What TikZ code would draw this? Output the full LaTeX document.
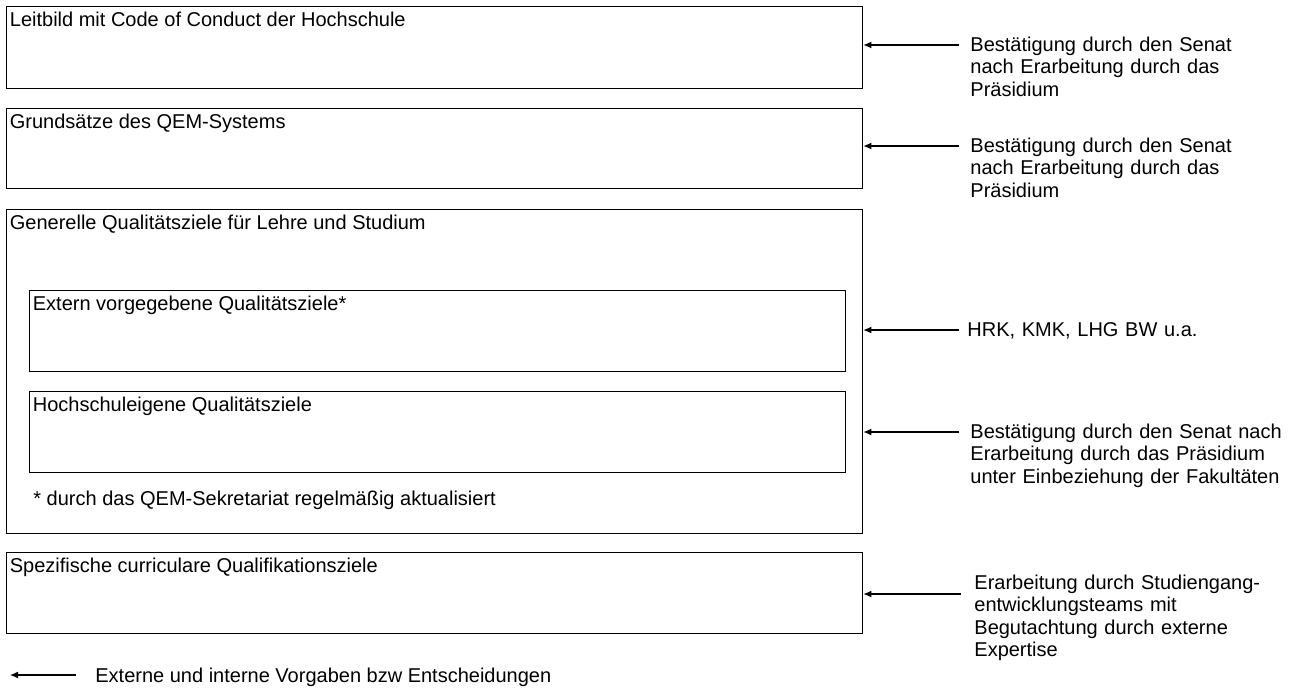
\documentclass[tikz,border=0pt]{standalone}
\usepackage{fontspec}
\setmainfont{Liberation Sans}
\usetikzlibrary{arrows,calc,arrows.meta}

\tikzset{
  box/.style={draw, line width=.65pt, anchor=north west, inner sep=0pt, minimum width=428pt},
  inbox/.style={box, minimum width=408pt},
  lbl/.style={anchor=base west, inner sep=0pt, xshift=1.75pt, yshift=-10.25pt},
  note/.style={anchor=base west, inner sep=0pt, align=left, text width=170pt},
}

\begin{document}
\begin{tikzpicture}[x=.5pt,y=-.5pt,font=\fontsize{10}{11.25}\selectfont]
    \useasboundingbox (0,0) rectangle (1289,691);
    % Ebenen
    \node[box, minimum height=41pt] (leitbild) at (6,6) {};
    \node[box, minimum height=40pt] (grundsaetze) at (6,108) {};
    \node[box, minimum height=162pt] (generell) at (6,209) {};
    \node[inbox, minimum height=40.5pt] (extern) at (29,290) {};
    \node[inbox, minimum height=40.5pt] (eigene) at (29,391) {};
    \node[box, minimum height=40.5pt] (curricular) at (6,552) {};
    \node[lbl] (leitbildtxt) at (leitbild.north west) {Leitbild mit Code of Conduct der Hochschule};
    \node[lbl] (grundsaetzetxt) at (grundsaetze.north west) {Grundsätze des QEM-Systems};
    \node[lbl] (generelltxt) at (generell.north west) {Generelle Qualitätsziele für Lehre und Studium};
    \node[lbl] (externtxt) at (extern.north west) {Extern vorgegebene Qualitätsziele*};
    \node[lbl] (eigenetxt) at (eigene.north west) {Hochschuleigene Qualitätsziele};
    \node[lbl] (curriculartxt) at (curricular.north west) {Spezifische curriculare Qualifikationsziele};
    \node[anchor=base west, inner sep=0pt] (fussnote) at (33,505) {* durch das QEM-Sekretariat regelmäßig aktualisiert};
    % Vorgaben
    \coordinate (s1) at (959,45);
    \coordinate (s2) at (959,146);
    \coordinate (s3) at (959,330);
    \coordinate (s4) at (959,432);
    \coordinate (s5) at (961,594);
    \node[note] (senat1) at (970,51) {Bestätigung durch den Senat\\nach Erarbeitung durch das\\Präsidium};
    \node[note] (senat2) at (970,152) {Bestätigung durch den Senat\\nach Erarbeitung durch das\\Präsidium};
    \node[note] (hrk) at (967,336) {HRK, KMK, LHG BW u.a.};
    \node[note] (senat3) at (970,438) {Bestätigung durch den Senat nach\\Erarbeitung durch das Präsidium\\unter Einbeziehung der Fakultäten};
    \node[note] (teams) at (974,589) {Erarbeitung durch Studiengang-\\entwicklungsteams mit\\Begutachtung durch externe\\Expertise};
    \begin{scope}[->,>={Latex[length=4pt,width=3.4pt]},line width=.55pt]
        \draw (s1) -- (leitbild.east |- s1);
        \draw (s2) -- (grundsaetze.east |- s2);
        \draw (s3) -- (generell.east |- s3);
        \draw (s4) -- (generell.east |- s4);
        \draw (s5) -- (curricular.east |- s5);
        % Legende
        \coordinate (l0) at (76,675);
        \coordinate (l1) at (10,675);
        \draw (l0) -- (l1);
    \end{scope}
    \node[anchor=base west, inner sep=0pt] (legende) at (95,682) {Externe und interne Vorgaben bzw Entscheidungen};
\end{tikzpicture}
\end{document}
